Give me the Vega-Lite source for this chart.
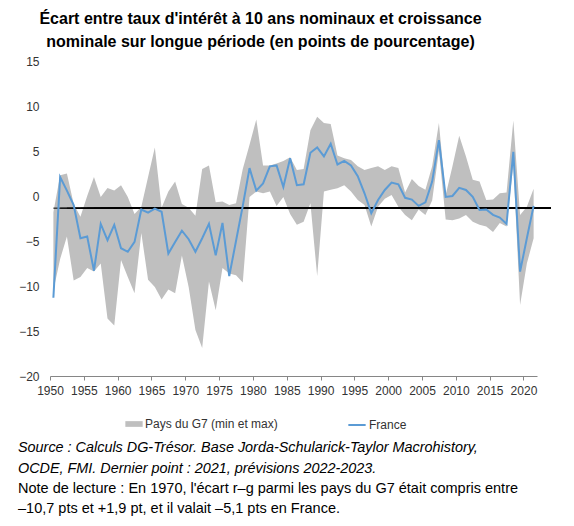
{
  "$schema": "https://vega.github.io/schema/vega-lite/v6.json",
  "padding": {"left": 18, "top": 11, "right": 5, "bottom": 5},
  "config": {
    "view": {"stroke": null},
    "font": "Liberation Sans",
    "axis": {"labelFont": "Liberation Sans", "labelFontSize": 12, "labelColor": "#333333", "grid": false, "title": null}
  },
  "title": {
    "text": ["Source : Calculs DG-Trésor. Base Jorda-Schularick-Taylor Macrohistory,", "OCDE, FMI. Dernier point : 2021, prévisions 2022-2023."],
    "subtitle": ["Note de lecture : En 1970, l'écart r–g parmi les pays du G7 était compris entre", "–10,7 pts et +1,9 pt, et il valait –5,1 pts en France."],
    "orient": "bottom",
    "anchor": "start",
    "frame": "group",
    "dx": -32,
    "font": "Liberation Sans",
    "fontSize": 14.4,
    "fontStyle": "italic",
    "fontWeight": "normal",
    "color": "#000000",
    "lineHeight": 20.5,
    "subtitleFont": "Liberation Sans",
    "subtitleFontSize": 14.5,
    "subtitleFontStyle": "normal",
    "subtitleFontWeight": "normal",
    "subtitleColor": "#000000",
    "subtitleLineHeight": 20.5,
    "subtitlePadding": 6,
    "offset": 10
  },
  "vconcat": [
    {
      "width": 487,
      "height": 315,
      "title": {
        "text": ["Écart entre taux d'intérêt à 10 ans nominaux et croissance", "nominale sur longue période (en points de pourcentage)"],
        "font": "Liberation Sans",
        "fontSize": 16,
        "fontWeight": "bold",
        "color": "#000000",
        "lineHeight": 23,
        "anchor": "middle",
        "frame": "group",
        "dx": -33,
        "offset": 5
      },
      "data": {
        "values": [
          {"year": "1950", "min": -10.5, "max": -1.8, "fr": -11.3},
          {"year": "1951", "min": -7.0, "max": 2.3, "fr": 2.1},
          {"year": "1952", "min": -4.5, "max": 2.5, "fr": 0.6},
          {"year": "1953", "min": -9.4, "max": -0.9, "fr": -1.0},
          {"year": "1954", "min": -9.0, "max": -2.3, "fr": -4.7},
          {"year": "1955", "min": -8.0, "max": 0.0, "fr": -4.5},
          {"year": "1956", "min": -8.4, "max": 2.1, "fr": -8.3},
          {"year": "1957", "min": -7.5, "max": -0.1, "fr": -3.1},
          {"year": "1958", "min": -13.6, "max": 0.9, "fr": -4.9},
          {"year": "1959", "min": -14.4, "max": 0.6, "fr": -3.2},
          {"year": "1960", "min": -7.1, "max": 1.2, "fr": -5.8},
          {"year": "1961", "min": -9.0, "max": -0.1, "fr": -6.2},
          {"year": "1962", "min": -10.8, "max": -2.0, "fr": -5.1},
          {"year": "1963", "min": -4.1, "max": -1.2, "fr": -1.5},
          {"year": "1964", "min": -9.3, "max": 2.1, "fr": -1.85},
          {"year": "1965", "min": -10.1, "max": 5.4, "fr": -1.4},
          {"year": "1966", "min": -11.5, "max": -1.3, "fr": -1.75},
          {"year": "1967", "min": -10.4, "max": 0.5, "fr": -6.4},
          {"year": "1968", "min": -10.8, "max": 1.6, "fr": -5.1},
          {"year": "1969", "min": -6.6, "max": -0.9, "fr": -3.85},
          {"year": "1970", "min": -10.1, "max": -1.3, "fr": -4.8},
          {"year": "1971", "min": -14.9, "max": -2.2, "fr": -6.2},
          {"year": "1972", "min": -16.9, "max": 3.0, "fr": -4.7},
          {"year": "1973", "min": -9.5, "max": 3.4, "fr": -3.1},
          {"year": "1974", "min": -12.7, "max": -0.7, "fr": -6.6},
          {"year": "1975", "min": -8.0, "max": -0.6, "fr": -3.0},
          {"year": "1976", "min": -8.6, "max": -1.0, "fr": -8.9},
          {"year": "1977", "min": -8.8, "max": -0.8, "fr": -5.0},
          {"year": "1978", "min": -9.6, "max": 3.0, "fr": -1.1},
          {"year": "1979", "min": -0.1, "max": 5.7, "fr": 3.1},
          {"year": "1980", "min": 0.5, "max": 8.5, "fr": 0.6},
          {"year": "1981", "min": 0.3, "max": 3.4, "fr": 1.4},
          {"year": "1982", "min": 0.5, "max": 3.4, "fr": 3.3},
          {"year": "1983", "min": -1.1, "max": 3.6, "fr": 3.4},
          {"year": "1984", "min": -0.1, "max": 3.9, "fr": 1.0},
          {"year": "1985", "min": -2.0, "max": 4.3, "fr": 4.2},
          {"year": "1986", "min": -3.2, "max": 2.9, "fr": 1.2},
          {"year": "1987", "min": -2.85, "max": 3.0, "fr": 1.3},
          {"year": "1988", "min": -0.8, "max": 7.3, "fr": 4.8},
          {"year": "1989", "min": -8.9, "max": 8.8, "fr": 5.4},
          {"year": "1990", "min": 0.5, "max": 8.1, "fr": 4.4},
          {"year": "1991", "min": 0.7, "max": 8.0, "fr": 5.8},
          {"year": "1992", "min": 0.85, "max": 4.5, "fr": 3.5},
          {"year": "1993", "min": 1.2, "max": 4.2, "fr": 3.9},
          {"year": "1994", "min": 0.5, "max": 4.0, "fr": 3.4},
          {"year": "1995", "min": -0.45, "max": 3.3, "fr": 2.2},
          {"year": "1996", "min": -1.0, "max": 2.9, "fr": 0.3},
          {"year": "1997", "min": -3.4, "max": 3.1, "fr": -1.9},
          {"year": "1998", "min": -1.2, "max": 3.3, "fr": -0.45},
          {"year": "1999", "min": -0.3, "max": 2.9, "fr": 0.67},
          {"year": "2000", "min": 0.1, "max": 3.3, "fr": 1.5},
          {"year": "2001", "min": -1.2, "max": 3.1, "fr": 1.3},
          {"year": "2002", "min": -2.1, "max": 0.4, "fr": -0.2},
          {"year": "2003", "min": -2.7, "max": 1.9, "fr": -0.4},
          {"year": "2004", "min": -1.5, "max": 1.1, "fr": -1.1},
          {"year": "2005", "min": -2.1, "max": 0.7, "fr": -0.7},
          {"year": "2006", "min": -0.5, "max": 3.3, "fr": 1.6},
          {"year": "2007", "min": 5.0, "max": 8.1, "fr": 6.2},
          {"year": "2008", "min": -2.6, "max": 0.1, "fr": -0.1},
          {"year": "2009", "min": -2.7, "max": 3.3, "fr": 0.0},
          {"year": "2010", "min": -2.5, "max": 6.7, "fr": 0.9},
          {"year": "2011", "min": -2.1, "max": 4.4, "fr": 0.67},
          {"year": "2012", "min": -2.85, "max": 1.8, "fr": -0.1},
          {"year": "2013", "min": -3.2, "max": 1.6, "fr": -1.55},
          {"year": "2014", "min": -3.4, "max": -0.45, "fr": -1.5},
          {"year": "2015", "min": -4.0, "max": -0.4, "fr": -2.1},
          {"year": "2016", "min": -3.0, "max": 0.3, "fr": -2.4},
          {"year": "2017", "min": -3.4, "max": 0.4, "fr": -3.1},
          {"year": "2018", "min": 3.5, "max": 8.4, "fr": 4.9},
          {"year": "2019", "min": -12.1, "max": -2.1, "fr": -8.4},
          {"year": "2020", "min": -7.5, "max": -1.2, "fr": -4.7},
          {"year": "2021", "min": -4.7, "max": 0.8, "fr": -1.1}
        ],
        "format": {"parse": {"year": "date:'%Y'"}}
      },
      "encoding": {
        "x": {
          "field": "year",
          "type": "temporal",
          "timeUnit": "year",
          "bandPosition": 0.5,
          "scale": {"domain": [{"year": 1950}, {"year": 2022}]},
          "axis": {
            "values": [{"year": 1950}, {"year": 1955}, {"year": 1960}, {"year": 1965}, {"year": 1970}, {"year": 1975}, {"year": 1980}, {"year": 1985}, {"year": 1990}, {"year": 1995}, {"year": 2000}, {"year": 2005}, {"year": 2010}, {"year": 2015}, {"year": 2020}],
            "format": "%Y",
            "labelAngle": 0,
            "labelOverlap": false,
            "labelFlush": false,
            "domainColor": "#868686",
            "tickColor": "#868686",
            "tickSize": 4,
            "labelPadding": 5
          }
        }
      },
      "layer": [
        {
          "mark": {"type": "area", "opacity": 1},
          "encoding": {
            "y": {
              "field": "min",
              "type": "quantitative",
              "scale": {"domain": [-20, 15], "nice": false, "zero": false},
              "axis": {"values": [-20, -15, -10, -5, 0, 5, 10, 15], "domain": false, "ticks": false, "labelPadding": 11}
            },
            "y2": {"field": "max"},
            "fill": {
              "datum": "Pays du G7 (min et max)",
              "type": "nominal",
              "scale": {"domain": ["Pays du G7 (min et max)"], "range": ["#bfbfbf"]},
              "legend": {
                "title": null,
                "orient": "none",
                "legendX": 75,
                "legendY": 354,
                "labelFont": "Liberation Sans",
                "labelFontSize": 12,
                "labelColor": "#333333",
                "labelOffset": 2,
                "symbolSize": 300,
                "symbolType": "M-1,-0.33L1,-0.33L1,0.33L-1,0.33Z",
                "symbolStrokeWidth": 0,
                "symbolOpacity": 1
              }
            }
          }
        },
        {
          "mark": {"type": "rule", "color": "#000000", "strokeWidth": 1},
          "encoding": {
            "y": {"datum": -1.35, "type": "quantitative"},
            "x": {"datum": {"year": 1950, "month": 10}, "type": "temporal"},
            "x2": {"datum": {"year": 2024}}
          }
        },
        {
          "mark": {"type": "line", "strokeWidth": 2, "interpolate": "linear"},
          "encoding": {
            "y": {"field": "fr", "type": "quantitative"},
            "stroke": {
              "datum": "France",
              "type": "nominal",
              "scale": {"domain": ["France"], "range": ["#5b9bd5"]},
              "legend": {
                "title": null,
                "orient": "none",
                "legendX": 297,
                "legendY": 354,
                "labelFont": "Liberation Sans",
                "labelFontSize": 12,
                "labelColor": "#333333",
                "labelOffset": 2,
                "symbolSize": 300,
                "symbolType": "stroke",
                "symbolStrokeWidth": 2
              }
            }
          }
        }
      ]
    }
  ]
}
